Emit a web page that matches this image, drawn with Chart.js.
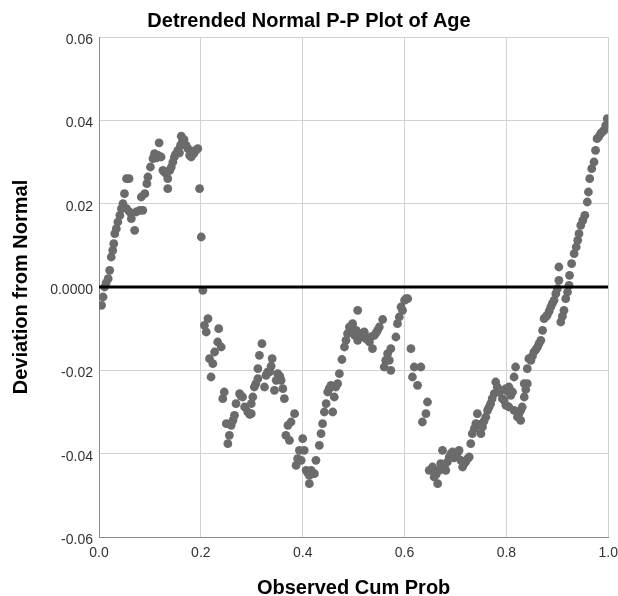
<!DOCTYPE html>
<html>
<head>
<meta charset="utf-8">
<title>Detrended Normal P-P Plot of Age</title>
<script src="https://cdn.jsdelivr.net/npm/chart.js@4.4.1/dist/chart.umd.min.js"></script>
<style>
  html, body { margin: 0; padding: 0; background: #fff; }
  #wrap { width: 618px; height: 596px; }
</style>
</head>
<body>
<div id="wrap"><canvas id="ppChart"></canvas></div>
<script>
// observed cumulative probability (x) and deviation from normal (y)
const obsCumProb = [
  0.005, 0.008, 0.011, 0.014, 0.018, 0.021, 0.024, 0.027, 0.029, 0.031,
  0.034, 0.037, 0.041, 0.044, 0.047, 0.050, 0.054, 0.059, 0.054, 0.060,
  0.0635, 0.070, 0.073, 0.080, 0.083, 0.086, 0.090, 0.094, 0.096, 0.101,
  0.106, 0.109, 0.113, 0.116, 0.118, 0.122, 0.1255, 0.128, 0.132, 0.135,
  0.135, 0.139, 0.142, 0.145, 0.148, 0.150, 0.155, 0.158, 0.160, 0.1615,
  0.164, 0.167, 0.171, 0.1745, 0.178, 0.181, 0.184, 0.186, 0.190, 0.194,
  0.1975, 0.2008, 0.204,
  0.207, 0.2106, 0.214, 0.217, 0.220, 0.2235, 0.227, 0.233, 0.235, 0.240,
  0.243, 0.246, 0.250, 0.253, 0.256, 0.2596, 0.263, 0.266, 0.269, 0.276,
  0.279, 0.282, 0.286, 0.292, 0.296, 0.299, 0.299, 0.302, 0.305, 0.308,
  0.312, 0.312, 0.315, 0.320, 0.325, 0.328, 0.331, 0.335, 0.338, 0.340,
  0.3445, 0.348, 0.351, 0.355, 0.3576, 0.361, 0.364, 0.367, 0.371, 0.374,
  0.377, 0.384, 0.387, 0.390, 0.3935, 0.397, 0.400, 0.403, 0.4067, 0.410,
  0.413, 0.413, 0.4165, 0.420, 0.423,
  0.426, 0.4327, 0.436, 0.439, 0.4425, 0.446, 0.449, 0.452, 0.4555, 0.459,
  0.462, 0.465, 0.4686, 0.472, 0.477, 0.482, 0.485, 0.488, 0.4916, 0.495,
  0.498, 0.502, 0.505, 0.508, 0.508, 0.511, 0.5145, 0.518, 0.521, 0.524,
  0.527, 0.531, 0.534, 0.537, 0.5406, 0.544, 0.547, 0.5504, 0.557, 0.560,
  0.563, 0.5667, 0.570, 0.573, 0.573, 0.583, 0.586, 0.5896, 0.593, 0.596,
  0.600, 0.603, 0.606, 0.6125, 0.6155, 0.619, 0.6255, 0.632, 0.635, 0.642,
  0.645,
  0.6484, 0.655, 0.658, 0.662, 0.665, 0.668, 0.671, 0.6745, 0.678, 0.681,
  0.684, 0.6877, 0.691, 0.694, 0.697, 0.701, 0.704, 0.707, 0.7106, 0.714,
  0.717, 0.720, 0.724, 0.727, 0.730, 0.733, 0.737, 0.740, 0.743, 0.747,
  0.750, 0.753, 0.756, 0.7596, 0.763, 0.766, 0.769, 0.772, 0.776, 0.779,
  0.782, 0.7857, 0.789, 0.792, 0.7955, 0.799, 0.799, 0.802, 0.805, 0.805,
  0.8086, 0.812, 0.815, 0.815, 0.818, 0.8216, 0.8245, 0.828, 0.828, 0.831,
  0.835, 0.835, 0.838, 0.841, 0.841, 0.844, 0.848,
  0.851, 0.854, 0.858, 0.861, 0.864, 0.8675, 0.871, 0.874, 0.877, 0.880,
  0.884, 0.887, 0.890, 0.8935, 0.897, 0.900, 0.903, 0.903, 0.9067, 0.910,
  0.913, 0.9165, 0.920, 0.923, 0.924, 0.928, 0.933, 0.937, 0.940, 0.9425,
  0.946, 0.950, 0.954, 0.9588, 0.961, 0.9635, 0.9675, 0.972, 0.975, 0.978,
  0.981, 0.985, 0.988, 0.9916, 0.995, 0.998
];
const deviation = [
  -0.0044, -0.0024, 0.0000, 0.0010, 0.0020, 0.0040, 0.0072, 0.0088, 0.0104, 0.0128,
  0.0140, 0.0156, 0.0172, 0.0188, 0.0200, 0.0224, 0.0260, 0.0260, 0.0188, 0.0180,
  0.0164, 0.0136, 0.0180, 0.0184, 0.0216, 0.0184, 0.0224, 0.0248, 0.0264, 0.0288,
  0.0308, 0.0320, 0.0310, 0.0316, 0.0346, 0.0312, 0.0280, 0.0276, 0.0272, 0.0260,
  0.0236, 0.0280, 0.0288, 0.0300, 0.0312, 0.0318, 0.0328, 0.0322, 0.0340, 0.0362,
  0.0350, 0.0354, 0.0340, 0.0332, 0.0316, 0.0312, 0.0326, 0.0320, 0.0328, 0.0332,
  0.0236, 0.0120, -0.0008,
  -0.0092, -0.0108, -0.0076, -0.0172, -0.0216, -0.0184, -0.0156, -0.0132, -0.0100, -0.0144,
  -0.0268, -0.0252, -0.0328, -0.0376, -0.0356, -0.0332, -0.0320, -0.0308, -0.0280, -0.0256,
  -0.0262, -0.0264, -0.0288, -0.0300, -0.0306, -0.0304, -0.0280, -0.0264, -0.0240, -0.0232,
  -0.0220, -0.0196, -0.0164, -0.0136, -0.0240, -0.0212, -0.0204, -0.0204, -0.0190, -0.0172,
  -0.0248, -0.0224, -0.0208, -0.0214, -0.0224, -0.0244, -0.0268, -0.0356, -0.0332, -0.0368,
  -0.0324, -0.0304, -0.0428, -0.0412, -0.0392, -0.0416, -0.0364, -0.0392, -0.0440, -0.0446,
  -0.0452, -0.0472, -0.0440, -0.0448, -0.0448,
  -0.0416, -0.0380, -0.0352, -0.0328, -0.0300, -0.0280, -0.0252, -0.0244, -0.0236, -0.0300,
  -0.0264, -0.0240, -0.0232, -0.0208, -0.0174, -0.0144, -0.0128, -0.0112, -0.0096, -0.0100,
  -0.0088, -0.0116, -0.0104, -0.0056, -0.0128, -0.0120, -0.0116, -0.0110, -0.0108, -0.0124,
  -0.0126, -0.0132, -0.0120, -0.0148, -0.0116, -0.0110, -0.0104, -0.0096, -0.0078, -0.0192,
  -0.0176, -0.0160, -0.0176, -0.0148, -0.0200, -0.0120, -0.0088, -0.0072, -0.0048, -0.0056,
  -0.0032, -0.0028, -0.0028, -0.0148, -0.0216, -0.0192, -0.0236, -0.0192, -0.0324, -0.0304,
  -0.0276,
  -0.0440, -0.0432, -0.0456, -0.0450, -0.0472, -0.0440, -0.0424, -0.0392, -0.0430, -0.0440,
  -0.0420, -0.0408, -0.0400, -0.0396, -0.0410, -0.0404, -0.0398, -0.0392, -0.0416, -0.0432,
  -0.0424, -0.0420, -0.0412, -0.0408, -0.0376, -0.0352, -0.0340, -0.0328, -0.0304, -0.0330,
  -0.0352, -0.0336, -0.0322, -0.0312, -0.0296, -0.0288, -0.0280, -0.0268, -0.0256, -0.0228,
  -0.0240, -0.0252, -0.0248, -0.0268, -0.0272, -0.0284, -0.0244, -0.0250, -0.0240, -0.0288,
  -0.0260, -0.0252, -0.0296, -0.0216, -0.0192, -0.0312, -0.0304, -0.0320, -0.0296, -0.0288,
  -0.0264, -0.0232, -0.0246, -0.0232, -0.0196, -0.0172, -0.0176,
  -0.0166, -0.0156, -0.0150, -0.0144, -0.0136, -0.0128, -0.0104, -0.0076, -0.0072, -0.0068,
  -0.0058, -0.0048, -0.0040, -0.0032, -0.0016, -0.0004, 0.0016, 0.0048, -0.0084, -0.0070,
  -0.0056, -0.0028, -0.0012, 0.0004, 0.0028, 0.0056, 0.0080, 0.0096, 0.0112, 0.0128,
  0.0148, 0.0160, 0.0172, 0.0204, 0.0228, 0.0260, 0.0284, 0.0300, 0.0328, 0.0356,
  0.0360, 0.0368, 0.0372, 0.0376, 0.0388, 0.0404
];

const xTicks = [0, 0.2, 0.4, 0.6, 0.8, 1.0];
const yTicks = [-0.06, -0.04, -0.02, 0, 0.02, 0.04, 0.06];

// horizontal reference line at zero deviation
const refLineX = [0, 1];
const refLineY = [0, 0];

const fontFamily = '"Liberation Sans", Arial, sans-serif';
Chart.defaults.font.family = fontFamily;

const points = obsCumProb.map((x, i) => ({ x: x, y: deviation[i] }));
const refLine = refLineX.map((x, i) => ({ x: x, y: refLineY[i] }));

new Chart(document.getElementById('ppChart'), {
  type: 'scatter',
  data: {
    datasets: [
      {
        type: 'line',
        data: refLine,
        borderColor: '#000',
        borderWidth: 3,
        pointRadius: 0,
        order: 0
      },
      {
        data: points,
        backgroundColor: '#6b6b6b',
        borderWidth: 0,
        pointRadius: 4.4,
        order: 1
      }
    ]
  },
  options: {
    responsive: true,
    maintainAspectRatio: false,
    animation: false,
    layout: { padding: { left: 0, right: 0, top: 0, bottom: 0 } },
    plugins: {
      legend: { display: false },
      tooltip: { enabled: false },
      title: {
        display: true,
        text: 'Detrended Normal P-P Plot of Age',
        color: '#000',
        font: { size: 20, weight: 'bold' },
        padding: { top: 9, bottom: 4 }
      }
    },
    scales: {
      x: {
        type: 'linear',
        position: 'bottom',
        min: 0,
        max: 1,
        afterBuildTicks: s => { s.ticks = xTicks.map(v => ({ value: v })); },
        afterFit: s => { s.height = 59; },
        ticks: {
          callback: v => v.toFixed(1),
          color: '#333',
          font: { size: 14 },
          padding: 0,
          maxRotation: 0
        },
        // invisible tick marks give the label gap without widening the right padding
        grid: { color: '#d2d2d2', drawTicks: true, tickLength: 8, tickColor: 'rgba(0,0,0,0)' },
        border: { color: '#8a8a8a' },
        title: {
          display: true,
          text: 'Observed Cum Prob',
          color: '#000',
          font: { size: 20, weight: 'bold', lineHeight: 0.8 },
          padding: { top: 0, bottom: 0 }
        }
      },
      y: {
        type: 'linear',
        min: -0.06,
        max: 0.06,
        afterBuildTicks: s => { s.ticks = yTicks.map(v => ({ value: v })); },
        afterFit: s => { s.width = 99; },
        ticks: {
          callback: v => (v === 0 ? '0.0000' : v.toFixed(2)),
          color: '#333',
          font: { size: 14 },
          padding: 6,
          labelOffset: 3
        },
        grid: { color: '#d2d2d2', drawTicks: false },
        border: { color: '#8a8a8a' },
        title: {
          display: true,
          text: 'Deviation from Normal',
          color: '#000',
          font: { size: 20, weight: 'bold' },
          padding: { top: 9, bottom: 0 }
        }
      }
    }
  }
});
</script>
</body>
</html>
